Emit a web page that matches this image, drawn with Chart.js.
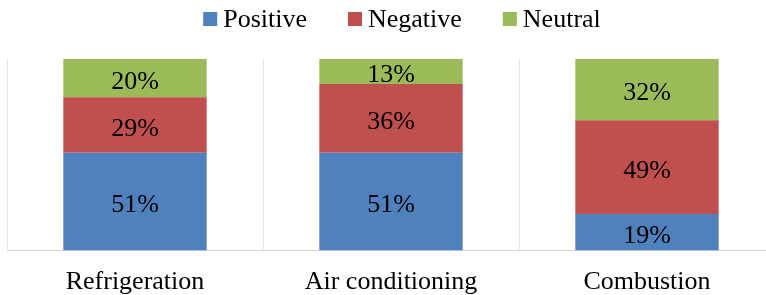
<!DOCTYPE html>
<html>
<head>
<meta charset="utf-8">
<script src="https://cdn.jsdelivr.net/npm/chart.js@4"></script>
<style>
  html, body { margin: 0; padding: 0; background: #fff; overflow: hidden; }
  #wrap { width: 775px; height: 313px; }
</style>
</head>
<body>
<div id="wrap"><canvas id="grafico"></canvas></div>
<script>
// datos
const categorias = ['Refrigeration', 'Air conditioning', 'Combustion'];
const positivo = [51, 51, 19];
const negativo = [29, 36, 49];
const neutral = [20, 13, 32];

const fuente = '"Liberation Serif", "Times New Roman", serif';

// etiquetas dentro de cada segmento
const etiquetas = {
  id: 'etiquetas',
  afterDatasetsDraw(chart) {
    const ctx = chart.ctx;
    ctx.save();
    ctx.font = '26px ' + fuente;
    ctx.fillStyle = '#000';
    ctx.textAlign = 'center';
    ctx.textBaseline = 'alphabetic';
    chart.data.datasets.forEach((ds, i) => {
      chart.getDatasetMeta(i).data.forEach((bar, j) => {
        const y = (bar.y + bar.base) / 2;
        ctx.fillText(ds.data[j] + '%', bar.x, y + 10.5);
      });
    });
    ctx.restore();
  }
};

// leyenda estilo Excel (cuadro pegado al texto)
const leyenda = {
  id: 'leyenda',
  afterDraw(chart) {
    const ctx = chart.ctx;
    const sets = chart.data.datasets;
    ctx.save();
    ctx.font = '26px ' + fuente;
    const anchos = sets.map(ds => 20 + ctx.measureText(ds.label).width);
    const sep = 41;
    const total = anchos.reduce((a, b) => a + b, 0) + sep * (sets.length - 1);
    let x = 402 - total / 2;
    sets.forEach((ds, i) => {
      ctx.fillStyle = ds.backgroundColor;
      ctx.fillRect(x, 12, 14, 14);
      ctx.fillStyle = '#000';
      ctx.textBaseline = 'alphabetic';
      ctx.textAlign = 'left';
      ctx.fillText(ds.label, x + 20, 27);
      x += anchos[i] + sep;
    });
    ctx.restore();
  }
};

new Chart(document.getElementById('grafico').getContext('2d'), {
  type: 'bar',
  data: {
    labels: categorias,
    datasets: [
      { label: 'Positive', data: positivo, backgroundColor: '#4F81BD' },
      { label: 'Negative', data: negativo, backgroundColor: '#C0504D' },
      { label: 'Neutral', data: neutral, backgroundColor: '#9BBB59' }
    ]
  },
  options: {
    responsive: true,
    maintainAspectRatio: false,
    animation: false,
    layout: { padding: { left: 7, right: 0, top: 59, bottom: 0 } },
    datasets: { bar: { barPercentage: 0.56, categoryPercentage: 1 } },
    plugins: {
      legend: { display: false },
      tooltip: { enabled: false }
    },
    scales: {
      x: {
        stacked: true,
        grid: { color: '#e8e8e8', drawTicks: false },
        border: { color: '#d9d9d9' },
        ticks: { color: '#000', font: { family: fuente, size: 26, lineHeight: 1.1 }, padding: 17 }
      },
      y: {
        stacked: true,
        display: false,
        min: 0,
        max: 100
      }
    }
  },
  plugins: [etiquetas, leyenda]
});
</script>
</body>
</html>
